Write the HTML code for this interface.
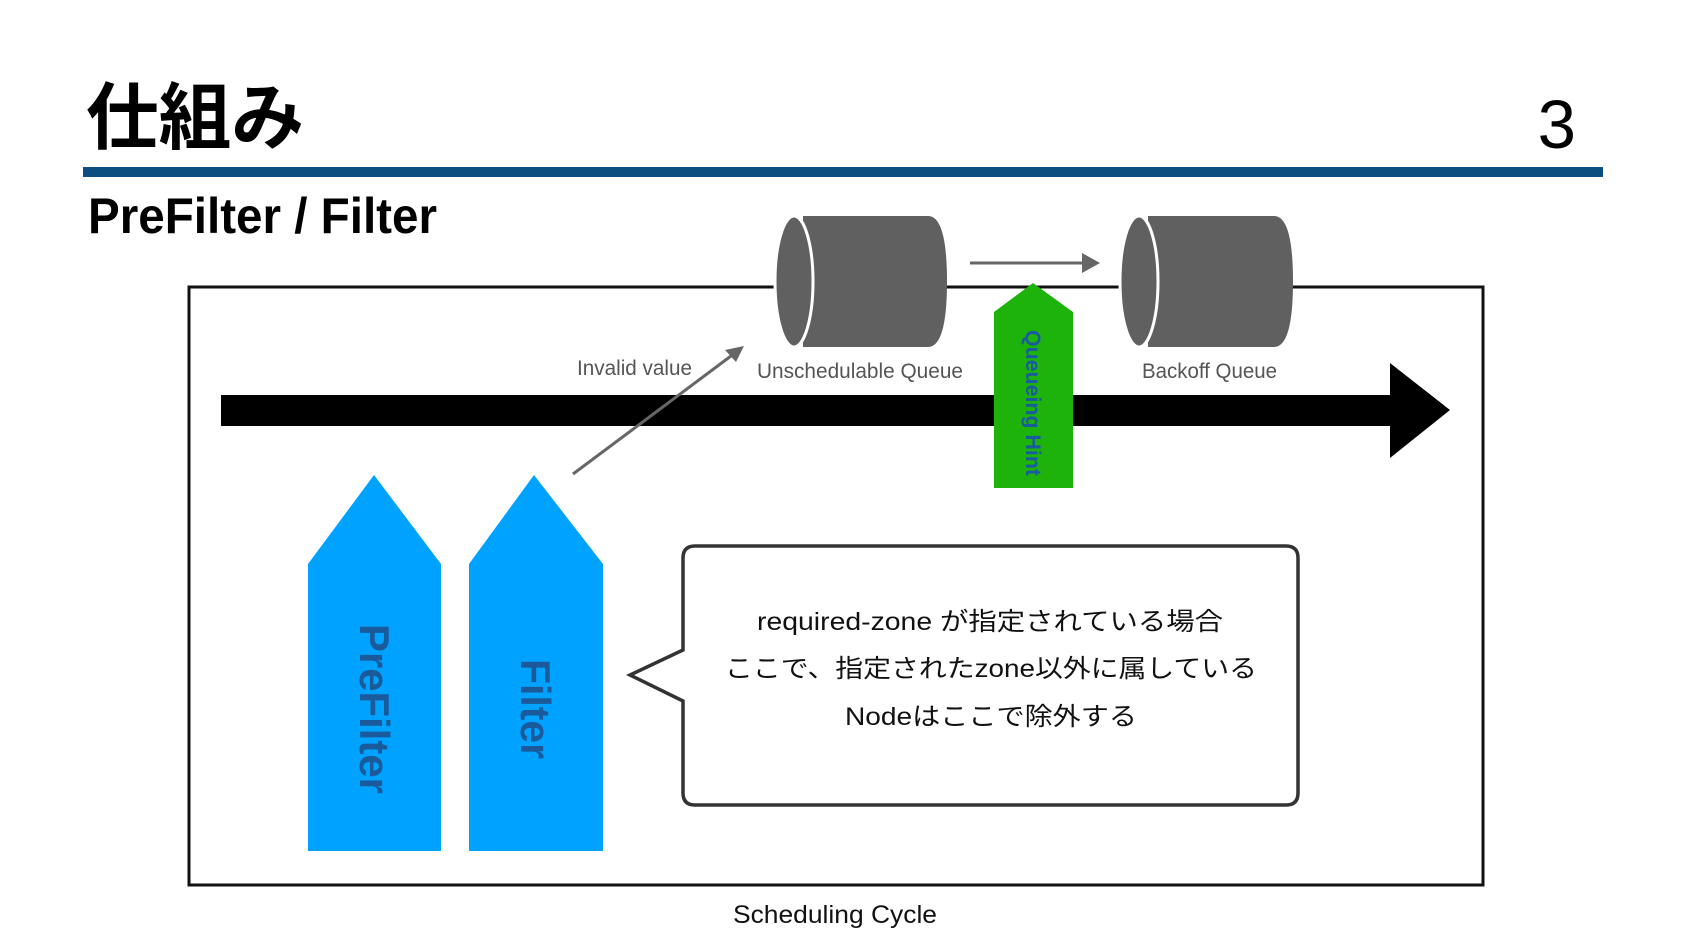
<!DOCTYPE html>
<html><head><meta charset="utf-8"><style>
html,body{margin:0;padding:0;background:#fff;}
svg{display:block;}
text{font-family:"Liberation Sans","Noto Sans CJK JP",sans-serif;}
</style></head><body>
<svg width="1686" height="948" viewBox="0 0 1686 948" xmlns="http://www.w3.org/2000/svg">
<rect width="1686" height="948" fill="#fff"/>
<text x="86" y="143" font-size="73" font-weight="bold" fill="#000" textLength="218" lengthAdjust="spacingAndGlyphs">仕組み</text>
<text x="1576" y="148" font-size="69" fill="#000" text-anchor="end">3</text>
<rect x="83" y="167" width="1520" height="10" fill="#0b4f80"/>
<text x="88" y="233" font-size="50" font-weight="bold" fill="#000" textLength="349" lengthAdjust="spacingAndGlyphs">PreFilter / Filter</text>

<rect x="189" y="287" width="1294" height="598" fill="none" stroke="#111" stroke-width="3"/>
<text x="733" y="923" font-size="25" fill="#111" textLength="204" lengthAdjust="spacingAndGlyphs">Scheduling Cycle</text>

<!-- big arrow -->
<rect x="221" y="395" width="1172" height="31" fill="#000"/>
<polygon points="1390,363 1450,410 1390,458" fill="#000"/>

<!-- cylinders -->
<path d="M803,216 H928 Q947,216 947,281.5 Q947,347 928,347 H803 Z" fill="#606060"/>
<ellipse cx="794" cy="281.5" rx="19" ry="65.5" fill="#606060" stroke="#fff" stroke-width="3"/>
<path d="M1148,216 H1274 Q1293,216 1293,281.5 Q1293,347 1274,347 H1148 Z" fill="#606060"/>
<ellipse cx="1139" cy="281.5" rx="19" ry="65.5" fill="#606060" stroke="#fff" stroke-width="3"/>

<!-- small arrow -->
<line x1="970" y1="263" x2="1086" y2="263" stroke="#666" stroke-width="3"/>
<polygon points="1082,253 1100,263 1082,273" fill="#666"/>

<!-- diagonal arrow -->
<line x1="573" y1="474" x2="735" y2="353" stroke="#666" stroke-width="3"/>
<polygon points="744,346 725,350 736,362" fill="#666"/>

<text x="577" y="375" font-size="21" fill="#555" textLength="115" lengthAdjust="spacingAndGlyphs">Invalid value</text>
<text x="757" y="378" font-size="21" fill="#555" textLength="206" lengthAdjust="spacingAndGlyphs">Unschedulable Queue</text>
<text x="1142" y="378" font-size="21" fill="#555" textLength="135" lengthAdjust="spacingAndGlyphs">Backoff Queue</text>

<!-- green -->
<polygon points="994,312 1033,283 1073,312 1073,488 994,488" fill="#1db30a"/>
<text transform="translate(1026,330) rotate(90)" font-size="21" font-weight="bold" fill="#1a5aa0" textLength="146" lengthAdjust="spacingAndGlyphs">Queueing Hint</text>

<!-- blue arrows -->
<polygon points="308,564 374,475 441,564 441,851 308,851" fill="#00a2ff"/>
<polygon points="469,564 534,475 603,564 603,851 469,851" fill="#00a2ff"/>
<text transform="translate(360,624) rotate(90)" font-size="42" font-weight="bold" fill="#1a5a9a" textLength="170" lengthAdjust="spacingAndGlyphs">PreFilter</text>
<text transform="translate(521,659) rotate(90)" font-size="42" font-weight="bold" fill="#1a5a9a" textLength="100" lengthAdjust="spacingAndGlyphs">Filter</text>

<!-- callout -->
<path d="M695,546 H1286 Q1298,546 1298,558 V793 Q1298,805 1286,805 H695 Q683,805 683,793 V701 L630,675 L683,650 V558 Q683,546 695,546 Z" fill="#fff" stroke="#333" stroke-width="3.5"/>
<text x="757" y="630" font-size="25" fill="#111" textLength="466" lengthAdjust="spacingAndGlyphs">required-zone が指定されている場合</text>
<text x="725" y="677" font-size="25" fill="#111" textLength="532" lengthAdjust="spacingAndGlyphs">ここで、指定されたzone以外に属している</text>
<text x="845" y="725" font-size="25" fill="#111" textLength="292" lengthAdjust="spacingAndGlyphs">Nodeはここで除外する</text>
</svg>
</body></html>
